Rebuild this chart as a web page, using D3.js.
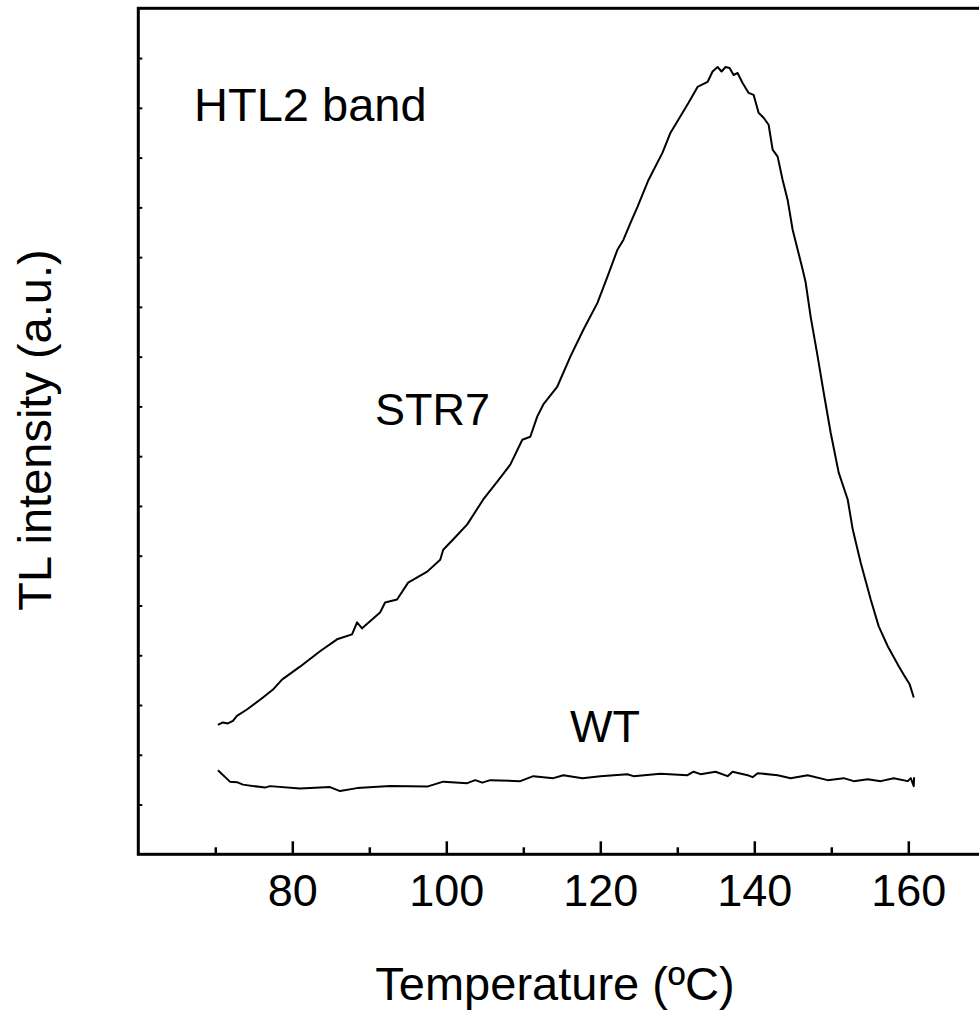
<!DOCTYPE html>
<html><head><meta charset="utf-8">
<script src="https://cdn.jsdelivr.net/npm/d3@7"></script>
<style>html,body{margin:0;padding:0;background:#fff;overflow:hidden}</style>
</head><body>
<svg id="chart" width="979" height="1014"></svg>
<script>
// ---- data ----
const str7T = [70.34,70.99,71.64,72.29,72.81,74.11,76.19,77.49,78.66,81.00,83.60,85.81,87.76,88.41,89.06,91.40,92.05,93.61,95.04,97.52,99.21,99.60,101.16,102.72,104.80,106.62,108.31,109.87,110.91,111.82,112.60,114.42,116.11,117.80,119.63,120.93,122.23,123.01,123.92,124.83,126.26,128.08,129.12,131.46,132.63,133.93,134.58,135.23,135.75,136.27,136.79,137.31,137.83,138.48,139.26,139.91,140.56,141.21,141.86,142.38,143.03,143.68,144.33,144.98,146.28,146.67,147.32,148.23,149.01,149.92,150.96,152.13,152.78,153.82,155.12,156.16,157.33,158.76,159.41,160.19,160.71];
const str7V = [2.60,2.65,2.63,2.68,2.78,2.91,3.15,3.31,3.51,3.77,4.08,4.32,4.42,4.66,4.54,4.86,5.06,5.12,5.46,5.68,5.92,6.12,6.37,6.63,7.13,7.49,7.83,8.33,8.39,8.80,9.04,9.40,10.00,10.54,11.08,11.61,12.15,12.35,12.69,13.01,13.55,14.10,14.50,15.10,15.42,15.52,15.73,15.82,15.73,15.82,15.80,15.66,15.70,15.50,15.30,15.26,14.90,14.80,14.66,14.16,14.02,13.55,13.15,12.55,11.75,11.49,10.80,10.00,9.28,8.47,7.67,7.13,6.53,5.86,5.12,4.58,4.18,3.78,3.61,3.41,3.15];
const wtT = [70.34,71.90,72.81,73.59,76.45,77.10,81.00,84.90,86.20,88.41,92.70,97.52,99.60,102.72,103.76,104.67,105.71,109.61,111.30,113.90,115.20,117.67,120.01,123.52,124.30,127.81,131.33,132.11,133.02,134.97,136.53,137.18,139.13,139.78,140.43,143.03,144.72,146.93,149.53,151.61,152.91,154.73,156.42,158.11,159.93,160.32,160.71,160.75];
const wtV = [1.69,1.46,1.45,1.40,1.34,1.37,1.32,1.35,1.27,1.33,1.37,1.36,1.46,1.43,1.49,1.44,1.49,1.47,1.57,1.53,1.59,1.53,1.57,1.61,1.57,1.62,1.59,1.66,1.61,1.66,1.57,1.66,1.59,1.55,1.63,1.59,1.53,1.59,1.49,1.53,1.47,1.51,1.47,1.53,1.47,1.53,1.37,1.55];
const xMajorTicks = [80,100,120,140,160];
const xMinorTicks = [70,90,110,130,150];
const yTicks = [1,2,3,4,5,6,7,8,9,10,11,12,13,14,15,16];
const labels = {title:"HTL2 band", s1:"STR7", s2:"WT", xTitle:"Temperature (ºC)", yTitle:"TL intensity (a.u.)"};

// ---- chart ----
const svg = d3.select("#chart");
const font = "'Liberation Sans', Arial, sans-serif";
const L = 138.3, R = 985.3, T = 8.3, B = 854.3;
const x = d3.scaleLinear().domain([60,170]).range([L,R]);
const y = d3.scaleLinear().domain([0,17]).range([B,T]);

const line = d3.line().x(d=>x(d[0])).y(d=>y(d[1]));
svg.append("path").datum(str7T.map((t,i)=>[t,str7V[i]]))
  .attr("d",line).attr("fill","none").attr("stroke","#000").attr("stroke-width",2).attr("stroke-linejoin","round");
svg.append("path").datum(wtT.map((t,i)=>[t,wtV[i]]))
  .attr("d",line).attr("fill","none").attr("stroke","#000").attr("stroke-width",2).attr("stroke-linejoin","round");

// frame
svg.append("rect").attr("x",L).attr("y",T).attr("width",R-L).attr("height",B-T)
  .attr("fill","none").attr("stroke","#000").attr("stroke-width",3);

// x axis major ticks (inward) with labels
const xAxis = d3.axisBottom(x).tickValues(xMajorTicks).tickSize(-13).tickPadding(22).tickFormat(d3.format("d"));
const gx = svg.append("g").attr("transform",`translate(0,${B})`).call(xAxis);
gx.select(".domain").remove();
gx.selectAll(".tick line").attr("stroke","#000").attr("stroke-width",2.5);
gx.selectAll(".tick text").attr("font-family",font).attr("font-size",45).attr("fill","#000").attr("dy","0.71em").attr("y",20);

const xAxisMinor = d3.axisBottom(x).tickValues(xMinorTicks).tickSize(-7).tickFormat("");
const gxm = svg.append("g").attr("transform",`translate(0,${B})`).call(xAxisMinor);
gxm.select(".domain").remove();
gxm.selectAll(".tick line").attr("stroke","#000").attr("stroke-width",2.5);

const yAxis = d3.axisLeft(y).tickValues(yTicks).tickSize(-4).tickFormat("");
const gy = svg.append("g").attr("transform",`translate(${L},0)`).call(yAxis);
gy.select(".domain").remove();
gy.selectAll(".tick line").attr("stroke","#000").attr("stroke-width",2);

// texts
svg.append("text").attr("x",194).attr("y",121).attr("font-family",font).attr("font-size",47).text(labels.title);
svg.append("text").attr("x",375).attr("y",425).attr("font-family",font).attr("font-size",45).text(labels.s1);
svg.append("text").attr("x",570).attr("y",742).attr("font-family",font).attr("font-size",45).text(labels.s2);
svg.append("text").attr("x",555).attr("y",1000).attr("text-anchor","middle").attr("font-family",font).attr("font-size",47).text(labels.xTitle);
svg.append("text").attr("transform","translate(51,430) rotate(-90)").attr("text-anchor","middle").attr("font-family",font).attr("font-size",47).text(labels.yTitle);
</script>
</body></html>
